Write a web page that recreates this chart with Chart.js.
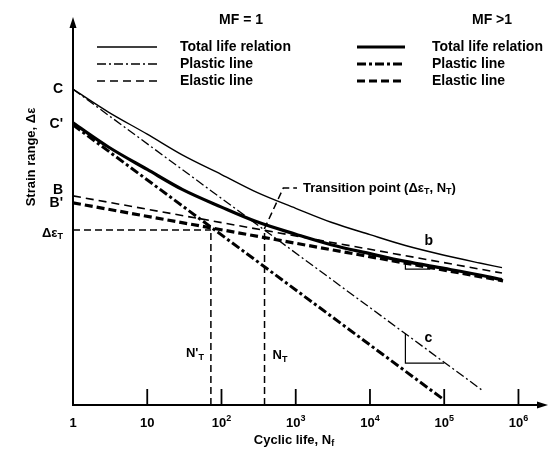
<!DOCTYPE html>
<html>
<head>
<meta charset="utf-8">
<script src="https://cdn.jsdelivr.net/npm/chart.js@4"></script>
<style>
  body { margin: 0; background: #fff; }
  canvas { display: block; }
</style>
</head>
<body>
<canvas id="chart" width="555" height="450"></canvas>
<script>
// Schematic strain-life diagram: log cyclic life vs strain range (arbitrary log units, 0-100)

// ---- Data ----
const N_TOTAL    = [1, 3, 10, 30, 100, 300, 1000, 3000, 1e4, 3e4, 1e5, 3e5, 6e5];
const TOTAL_MF1  = [81.4, 75.5, 69.8, 64.4, 59.4, 54.8, 50.7, 47.1, 43.9, 41.1, 38.6, 36.6, 35.4];
const TOTAL_MF2  = [72.7, 66.5, 60.7, 55.5, 51.0, 47.2, 44.0, 41.3, 39.0, 37.0, 35.2, 33.5, 32.3];

const PLASTIC_N_MF1 = [1, 3.2e5];
const PLASTIC_MF1   = [81.4, 3.9];
const PLASTIC_N_MF2 = [1, 1e5];
const PLASTIC_MF2   = [72.2, 1.3];

const ELASTIC_N_MF1 = [1, 6e5];
const ELASTIC_MF1   = [53.9, 34.0];
const ELASTIC_N_MF2 = [1, 6.2e5];
const ELASTIC_MF2   = [52.1, 32.0];

// transition point guides
const DELTA_EPS_T = 45.1;
const N_T_PRIME   = 72;
const N_T         = 380;
const LEADER_N    = [N_T, N_T, 680, 1040];
const LEADER_Y    = [0, 45.5, 55.9, 55.9];

// slope triangles "b" and "c"
const B_TRI_N = [3e4, 3e4, 6.5e4];
const B_TRI   = [36.6, 35.0, 35.0];
const C_TRI_N = [3e4, 3e4, 1e5];
const C_TRI   = [18.4, 10.8, 10.8];

// x axis ticks
const TICK_VALUES = [1, 10, 100, 1e3, 1e4, 1e5, 1e6];
const TICK_BASES  = ["1", "10", "10", "10", "10", "10", "10"];
const TICK_POWERS = ["", "", "2", "3", "4", "5", "6"];

const FONT = '"Liberation Sans", Arial, sans-serif';

function pts(xs, ys) {
    return xs.map((x, i) => ({ x: x, y: ys[i] }));
}

function lineSet(data, width, dash, extra) {
    return Object.assign({
        data: data,
        borderColor: "#000",
        borderWidth: width,
        borderDash: dash || [],
        pointRadius: 0,
        fill: false
    }, extra || {});
}

// ---- text with sub/superscripts: parts = [[text, "sub"|"sup"|undefined], ...] ----
function drawRich(ctx, parts, x, y, size, align) {
    const small = Math.round(size * 0.72);
    const widths = parts.map((p) => {
        ctx.font = `bold ${p[1] ? small : size}px ${FONT}`;
        return ctx.measureText(p[0]).width;
    });
    const total = widths.reduce((a, b) => a + b, 0);
    let cx = align === "center" ? x - total / 2 : align === "right" ? x - total : x;
    ctx.textAlign = "left";
    ctx.textBaseline = "middle";
    parts.forEach((p, i) => {
        ctx.font = `bold ${p[1] ? small : size}px ${FONT}`;
        let dy = 0;
        if (p[1] === "sub") dy = size * 0.3;
        if (p[1] === "sup") dy = -size * 0.38;
        ctx.fillText(p[0], cx, y + dy);
        cx += widths[i];
    });
}

// ---- axes, labels and legend ----
const schematic = {
    id: "schematic",
    afterDatasetsDraw(chart) {
        const ctx = chart.ctx;
        const area = chart.chartArea;
        const xs = chart.scales.x;
        const ys = chart.scales.y;
        ctx.save();
        ctx.fillStyle = "#000";
        ctx.strokeStyle = "#000";

        // axis lines with arrow heads
        ctx.lineWidth = 2;
        ctx.setLineDash([]);
        ctx.beginPath();
        ctx.moveTo(area.left, area.top + 6);
        ctx.lineTo(area.left, area.bottom);
        ctx.lineTo(area.right - 6, area.bottom);
        ctx.stroke();
        ctx.beginPath();
        ctx.moveTo(area.left, area.top);
        ctx.lineTo(area.left - 3.5, area.top + 11);
        ctx.lineTo(area.left + 3.5, area.top + 11);
        ctx.closePath();
        ctx.fill();
        ctx.beginPath();
        ctx.moveTo(area.right, area.bottom);
        ctx.lineTo(area.right - 11, area.bottom - 3.5);
        ctx.lineTo(area.right - 11, area.bottom + 3.5);
        ctx.closePath();
        ctx.fill();

        // decade ticks (pointing inward) and labels
        TICK_VALUES.forEach((v, i) => {
            const px = xs.getPixelForValue(v);
            if (i > 0) {
                ctx.lineWidth = 1.8;
                ctx.beginPath();
                ctx.moveTo(px, area.bottom);
                ctx.lineTo(px, area.bottom - 16);
                ctx.stroke();
            }
            const parts = [[TICK_BASES[i]]];
            if (TICK_POWERS[i]) parts.push([TICK_POWERS[i], "sup"]);
            drawRich(ctx, parts, px, area.bottom + 18, 13, "center");
        });

        // axis titles
        drawRich(ctx, [["Cyclic life, N"], ["f", "sub"]], 294, 440, 13, "center");
        ctx.save();
        ctx.translate(31, 157);
        ctx.rotate(-Math.PI / 2);
        drawRich(ctx, [["Strain range, \u0394\u03b5"]], 0, 0, 13, "center");
        ctx.restore();

        // point labels on the strain axis
        const lx = area.left - 10;
        drawRich(ctx, [["C"]], lx, ys.getPixelForValue(81.4), 14, "right");
        drawRich(ctx, [["C'"]], lx, ys.getPixelForValue(72.5), 14, "right");
        drawRich(ctx, [["B"]], lx, ys.getPixelForValue(55.5), 14, "right");
        drawRich(ctx, [["B'"]], lx, ys.getPixelForValue(52.0), 14, "right");
        drawRich(ctx, [["\u0394\u03b5"], ["T", "sub"]], lx, ys.getPixelForValue(DELTA_EPS_T) + 3, 13, "right");

        // N'T and NT labels
        drawRich(ctx, [["N'"], ["T", "sub"]], xs.getPixelForValue(N_T_PRIME) - 7, ys.getPixelForValue(13.2), 13, "right");
        drawRich(ctx, [["N"], ["T", "sub"]], xs.getPixelForValue(N_T) + 8, ys.getPixelForValue(12.7), 13, "left");

        // slope labels
        drawRich(ctx, [["b"]], xs.getPixelForValue(6.2e4), ys.getPixelForValue(42.3), 14, "center");
        drawRich(ctx, [["c"]], xs.getPixelForValue(6.1e4), ys.getPixelForValue(17.2), 14, "center");

        // transition point label
        drawRich(ctx, [["Transition point (\u0394\u03b5"], ["T", "sub"], [", N"], ["T", "sub"], [")"]],
            xs.getPixelForValue(1040) + 6, ys.getPixelForValue(55.9), 13, "left");

        // legend
        const rows = [47, 64, 81];
        const names = ["Total life relation", "Plastic line", "Elastic line"];
        const cols = [
            { title: "MF = 1", cx: 241, x0: 97, x1: 157, tx: 180, w: [1.4, 1.3, 1.6], dash: [[], [9, 3, 2, 3], [8, 5]] },
            { title: "MF >1", cx: 492, x0: 357, x1: 405, tx: 432, w: [3.2, 3, 3.2], dash: [[], [9, 3, 3, 3], [8, 4]] }
        ];
        cols.forEach((c) => {
            drawRich(ctx, [[c.title]], c.cx, 20, 14, "center");
            rows.forEach((ry, i) => {
                ctx.lineWidth = c.w[i];
                ctx.setLineDash(c.dash[i]);
                ctx.beginPath();
                ctx.moveTo(c.x0, ry);
                ctx.lineTo(c.x1, ry);
                ctx.stroke();
                ctx.setLineDash([]);
                drawRich(ctx, [[names[i]]], c.tx, ry, 14, "left");
            });
        });
        ctx.restore();
    }
};

new Chart(document.getElementById("chart"), {
    type: "line",
    data: {
        datasets: [
            lineSet(pts(N_TOTAL, TOTAL_MF1), 1.4, [], { cubicInterpolationMode: "monotone" }),
            lineSet(pts(PLASTIC_N_MF1, PLASTIC_MF1), 1.3, [9, 3, 2, 3]),
            lineSet(pts(ELASTIC_N_MF1, ELASTIC_MF1), 1.6, [8, 5]),
            lineSet(pts(N_TOTAL, TOTAL_MF2), 3.2, [], { cubicInterpolationMode: "monotone" }),
            lineSet(pts(PLASTIC_N_MF2, PLASTIC_MF2), 3, [9, 3, 3, 3]),
            lineSet(pts(ELASTIC_N_MF2, ELASTIC_MF2), 3.2, [8, 4]),
            lineSet(pts([1, N_T_PRIME], [DELTA_EPS_T, DELTA_EPS_T]), 1.5, [7, 4]),
            lineSet(pts([N_T_PRIME, N_T_PRIME], [0, DELTA_EPS_T]), 1.5, [7, 4]),
            lineSet(pts(LEADER_N, LEADER_Y), 1.5, [7, 4]),
            lineSet(pts(B_TRI_N, B_TRI), 1.2, []),
            lineSet(pts(C_TRI_N, C_TRI), 1.2, [])
        ]
    },
    options: {
        responsive: false,
        animation: false,
        layout: { padding: { left: 73, top: 17, right: 7, bottom: 45 } },
        scales: {
            x: { type: "logarithmic", min: 1, max: 2.5e6, display: false },
            y: { type: "linear", min: 0, max: 100, display: false }
        },
        plugins: {
            legend: { display: false },
            tooltip: { enabled: false }
        },
        elements: { line: { tension: 0 } }
    },
    plugins: [schematic]
});
</script>
</body>
</html>
